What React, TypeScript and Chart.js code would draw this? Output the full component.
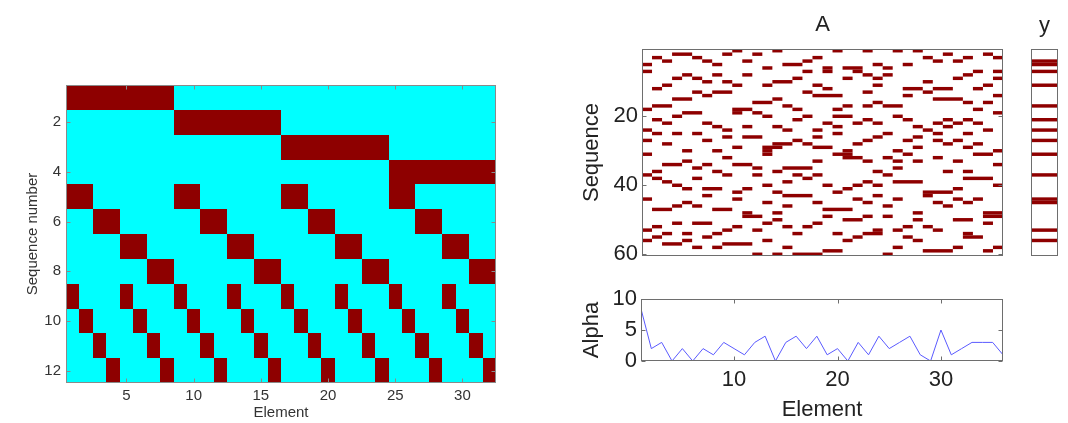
import React, { useEffect, useRef } from 'react';
import { Chart, registerables } from 'chart.js';

Chart.register(...registerables);

const FONT = '"Liberation Sans", Arial, Helvetica, sans-serif';
const RED = '#8e0000';
const CYAN = '#00ffff';

// ---------- Left panel: 12 x 32 sequence matrix ----------
const leftRows: string[] = [
  '11111111000000000000000000000000',
  '00000000111111110000000000000000',
  '00000000000000001111111100000000',
  '00000000000000000000000011111111',
  '11000000110000001100000011000000',
  '00110000001100000011000000110000',
  '00001100000011000000110000001100',
  '00000011000000110000001100000011',
  '10001000100010001000100010001000',
  '01000100010001000100010001000100',
  '00100010001000100010001000100010',
  '00010001000100010001000100010001',
];
const leftXTicks = [5, 10, 15, 20, 25, 30];
const leftYTicks = [2, 4, 6, 8, 10, 12];

// ---------- Right panel: A (60 x 36), filled columns per row ----------
const aRows: number[][] = [
  [10, 14, 20, 23, 26, 28],
  [4, 5, 9, 12, 31, 35],
  [2, 6, 18, 29, 33, 36],
  [3, 7, 11, 17, 30, 32],
  [1, 8, 15, 16, 24, 27],
  [13, 19, 21, 22, 25],
  [1, 17, 19, 22, 34, 36],
  [5, 8, 11, 23, 25, 33],
  [4, 6, 16, 21, 24, 32, 36],
  [7, 9, 14, 15, 29],
  [3, 10, 13, 18, 24, 35],
  [2, 19, 27, 28, 30, 31, 34],
  [6, 8, 9, 17, 23, 29],
  [7, 18, 19, 20, 27, 36],
  [4, 5, 14, 30, 31, 32],
  [12, 13, 24, 33, 35],
  [2, 3, 15, 21, 23, 25, 26],
  [1, 10, 11, 16, 20, 34],
  [5, 6, 10, 12, 36],
  [4, 13, 17, 20, 21, 26],
  [2, 16, 23, 27, 31, 33],
  [3, 7, 19, 22, 24, 30, 32, 34],
  [8, 11, 14, 20, 28, 31],
  [1, 9, 15, 18, 29, 35],
  [2, 4, 6, 20, 25, 30, 33],
  [9, 11, 12, 18, 24, 28],
  [1, 7, 16, 23, 27, 30, 32],
  [3, 14, 15, 17, 22, 31, 34],
  [10, 13, 14, 18, 19, 28, 33],
  [5, 8, 13, 21, 26, 36],
  [1, 13, 20, 21, 27, 34, 35],
  [9, 21, 22, 25, 30],
  [5, 18, 23, 26, 28, 32],
  [3, 4, 7, 10, 11, 36],
  [6, 12, 15, 16, 17, 26],
  [2, 8, 14, 24, 31, 33],
  [1, 9, 12, 16, 18, 25],
  [2, 6, 17, 33, 34, 35],
  [3, 15, 23, 26, 27, 28],
  [4, 13, 19, 22, 24, 36],
  [5, 7, 8, 11, 21, 32],
  [10, 14, 20, 29, 30, 31],
  [7, 15, 16, 17, 24, 29],
  [1, 10, 22, 26, 32, 34],
  [5, 13, 18, 23, 30, 33],
  [4, 6, 15, 25, 31],
  [2, 3, 8, 9, 19, 20, 21],
  [11, 14, 28, 35, 36],
  [11, 12, 19, 23, 25, 35, 36],
  [14, 21, 22, 28, 32, 33],
  [4, 6, 7, 13, 18, 35],
  [2, 10, 15, 17, 27, 29],
  [1, 9, 12, 24, 26, 30],
  [3, 5, 8, 16, 20, 23, 24, 33],
  [2, 7, 22, 27, 33, 34],
  [1, 5, 13, 21, 28],
  [3, 4, 9, 10, 11],
  [6, 8, 15, 26, 32, 36],
  [19, 20, 29, 30, 31, 35],
  [12, 14, 16, 17, 18, 25],
];
const aYTicks = [20, 40, 60];

// ---------- y column: filled rows ----------
const yRows = [4, 5, 7, 11, 17, 21, 24, 27, 31, 37, 44, 45, 53, 56];

// ---------- Alpha ----------
const alphaValues = [8.4, 2, 3, 0, 2, 0, 2, 1, 3, 2, 1, 3, 4, 0, 3, 4, 2, 4, 1, 2, 0, 3, 1, 4, 2, 3, 4, 1, 0, 5, 1, 2, 3, 3, 3, 1];
const alphaXTicks = [10, 20, 30];
const alphaYTicks = [0, 5, 10];

type Run = [number, number, number]; // colStart, colEnd, row

function runsFromStrings(rows: string[]): Run[] {
  const out: Run[] = [];
  rows.forEach((s, ri) => {
    let start = -1;
    for (let i = 0; i <= s.length; i++) {
      const on = i < s.length && s[i] === '1';
      if (on && start < 0) start = i;
      if (!on && start >= 0) {
        out.push([start + 1, i, ri + 1]);
        start = -1;
      }
    }
  });
  return out;
}

function runsFromLists(rows: number[][]): Run[] {
  const out: Run[] = [];
  rows.forEach((cols, ri) => {
    const sorted = [...cols].sort((a, b) => a - b);
    let s = -1;
    let prev = -10;
    for (const c of sorted) {
      if (c === prev + 1) {
        prev = c;
        continue;
      }
      if (s > 0) out.push([s, prev, ri + 1]);
      s = c;
      prev = c;
    }
    if (s > 0) out.push([s, prev, ri + 1]);
  });
  return out;
}

const matrixPlugin = {
  id: 'matrix',
  beforeDatasetsDraw(chart: any, _args: any, opts: any) {
    if (!opts || !opts.runs) return;
    const { ctx, chartArea } = chart;
    const xs = chart.scales.x;
    const ys = chart.scales.y;
    ctx.save();
    ctx.beginPath();
    ctx.rect(chartArea.left, chartArea.top, chartArea.right - chartArea.left, chartArea.bottom - chartArea.top);
    ctx.clip();
    if (opts.bg) {
      ctx.fillStyle = opts.bg;
      ctx.fillRect(chartArea.left, chartArea.top, chartArea.right - chartArea.left, chartArea.bottom - chartArea.top);
    }
    ctx.fillStyle = opts.color;
    const snap = (v: number) => (opts.snap ? Math.round(v) : v);
    for (const [c0, c1, r] of opts.runs as Run[]) {
      const xa = snap(xs.getPixelForValue(c0 - 0.5));
      const xb = snap(xs.getPixelForValue(c1 + 0.5));
      const ya = snap(ys.getPixelForValue(r - 0.5));
      const yb = snap(ys.getPixelForValue(r + 0.5));
      ctx.fillRect(Math.min(xa, xb), Math.min(ya, yb), Math.abs(xb - xa), Math.abs(yb - ya));
    }
    ctx.restore();
  },
};

const framePlugin = {
  id: 'frame',
  afterDraw(chart: any, _args: any, opts: any) {
    if (!opts || !opts.show) return;
    const { ctx, chartArea } = chart;
    const l = Math.round(chartArea.left) + 0.5;
    const r = Math.round(chartArea.right) - 0.5;
    const t = Math.round(chartArea.top) + 0.5;
    const b = Math.round(chartArea.bottom) - 0.5;
    ctx.save();
    ctx.strokeStyle = opts.color;
    ctx.lineWidth = 1;
    ctx.strokeRect(l, t, r - l, b - t);
    const tl = opts.tickLen || 4;
    ctx.beginPath();
    if (opts.xTicks) {
      const xs = chart.scales.x;
      for (const tk of xs.ticks) {
        const px = Math.round(xs.getPixelForValue(tk.value)) + 0.5;
        ctx.moveTo(px, b);
        ctx.lineTo(px, b - tl);
        ctx.moveTo(px, t);
        ctx.lineTo(px, t + tl);
      }
    }
    if (opts.yTicks) {
      const ys = chart.scales.y;
      for (const tk of ys.ticks) {
        const py = Math.round(ys.getPixelForValue(tk.value)) + 0.5;
        ctx.moveTo(l, py);
        ctx.lineTo(l + tl, py);
        ctx.moveTo(r, py);
        ctx.lineTo(r - tl, py);
      }
    }
    ctx.stroke();
    ctx.restore();
  },
};

Chart.register(matrixPlugin as any, framePlugin as any);

const setTicks = (vals: number[]) => (s: any) => {
  s.ticks = vals.map((v) => ({ value: v }));
};

const noGrid = { display: false, drawTicks: false, tickLength: 0 };

function leftConfig(): any {
  const W = 540;
  const f = { family: FONT, size: 15 };
  return {
    type: 'scatter',
    data: { datasets: [] },
    options: {
      animation: false,
      responsive: false,
      maintainAspectRatio: false,
      layout: { padding: { top: 85, right: W - 496, left: 0, bottom: 0 } },
      plugins: {
        legend: { display: false },
        tooltip: { enabled: false },
        matrix: { runs: runsFromStrings(leftRows), color: RED, bg: CYAN, snap: true },
        frame: { show: true, color: '#8a8a8a', tickLen: 4, xTicks: true, yTicks: true },
      },
      scales: {
        x: {
          type: 'linear',
          min: 0.5,
          max: 32.5,
          position: 'bottom',
          grid: noGrid,
          border: { display: false },
          afterBuildTicks: setTicks(leftXTicks),
          afterFit: (s: any) => {
            s.height = 40;
          },
          ticks: { font: f, color: '#333', padding: 4, maxRotation: 0, autoSkip: false },
          title: { display: true, text: 'Element', font: f, color: '#333', padding: { top: 0, bottom: 1 } },
        },
        y: {
          type: 'linear',
          min: 0.5,
          max: 12.5,
          reverse: true,
          grid: noGrid,
          border: { display: false },
          afterBuildTicks: setTicks(leftYTicks),
          afterFit: (s: any) => {
            s.width = 66;
          },
          ticks: { font: f, color: '#333', padding: 5, autoSkip: false },
          title: { display: true, text: 'Sequence number', font: f, color: '#333', padding: { top: 24, bottom: 0 } },
        },
      },
    },
  };
}

function aConfig(): any {
  const W = 460;
  const H = 276;
  const f = { family: FONT, size: 22 };
  return {
    type: 'scatter',
    data: { datasets: [] },
    options: {
      animation: false,
      responsive: false,
      maintainAspectRatio: false,
      layout: { padding: { top: 0, right: W - (1003 - 560), left: 0, bottom: H - 256 } },
      plugins: {
        legend: { display: false },
        tooltip: { enabled: false },
        matrix: { runs: runsFromLists(aRows), color: RED },
        frame: { show: true, color: '#6e6e6e', tickLen: 4, xTicks: false, yTicks: true },
      },
      scales: {
        x: {
          type: 'linear',
          min: 0.5,
          max: 36.5,
          position: 'top',
          grid: noGrid,
          border: { display: false },
          afterBuildTicks: setTicks([]),
          afterFit: (s: any) => {
            s.height = 49;
          },
          ticks: { display: false },
          title: { display: true, text: 'A', font: f, color: '#222', padding: { top: 12, bottom: 0 } },
        },
        y: {
          type: 'linear',
          min: 0.5,
          max: 60.5,
          reverse: true,
          grid: noGrid,
          border: { display: false },
          afterBuildTicks: setTicks(aYTicks),
          afterFit: (s: any) => {
            s.width = 642 - 560;
          },
          ticks: { font: f, color: '#222', padding: 4, autoSkip: false },
          title: { display: true, text: 'Sequence', font: f, color: '#222', padding: { top: 18.8, bottom: 0 } },
        },
      },
    },
  };
}

function yConfig(): any {
  const W = 48;
  const H = 276;
  return {
    type: 'scatter',
    data: { datasets: [] },
    options: {
      animation: false,
      responsive: false,
      maintainAspectRatio: false,
      layout: { padding: { top: 0, right: W - (1058 - 1020), left: 1031 - 1020, bottom: H - 256 } },
      plugins: {
        legend: { display: false },
        tooltip: { enabled: false },
        matrix: { runs: yRows.map((r) => [1, 1, r] as Run), color: RED },
        frame: { show: true, color: '#6e6e6e', tickLen: 4, xTicks: false, yTicks: false },
      },
      scales: {
        x: {
          type: 'linear',
          min: 0.5,
          max: 1.5,
          position: 'top',
          grid: noGrid,
          border: { display: false },
          afterBuildTicks: setTicks([]),
          afterFit: (s: any) => {
            s.height = 49;
          },
          ticks: { display: false },
          title: { display: true, text: 'y', font: { family: FONT, size: 22 }, color: '#222', padding: { top: 13, bottom: 0 } },
        },
        y: {
          type: 'linear',
          display: false,
          min: 0.5,
          max: 60.5,
          reverse: true,
        },
      },
    },
  };
}

function alphaConfig(): any {
  const W = 460;
  const H = 153;
  const f = { family: FONT, size: 22 };
  return {
    type: 'line',
    data: {
      datasets: [
        {
          data: alphaValues.map((v, i) => ({ x: i + 1, y: v })),
          borderColor: '#5a5aff',
          borderWidth: 1,
          pointRadius: 0,
          tension: 0,
          fill: false,
        },
      ],
    },
    options: {
      animation: false,
      responsive: false,
      maintainAspectRatio: false,
      layout: { padding: { top: 299 - 270, right: W - (1003 - 560), left: 0, bottom: 0 } },
      plugins: {
        legend: { display: false },
        tooltip: { enabled: false },
        frame: { show: true, color: '#6e6e6e', tickLen: 4, xTicks: true, yTicks: true },
      },
      scales: {
        x: {
          type: 'linear',
          min: 1,
          max: 36,
          grid: noGrid,
          border: { display: false },
          afterBuildTicks: setTicks(alphaXTicks),
          afterFit: (s: any) => {
            s.height = H - (361 - 270);
          },
          ticks: { font: f, color: '#222', padding: 6, maxRotation: 0, autoSkip: false },
          title: { display: true, text: 'Element', font: f, color: '#222', padding: { top: 0, bottom: 0 } },
        },
        y: {
          type: 'linear',
          min: 0,
          max: 10,
          grid: noGrid,
          border: { display: false },
          afterBuildTicks: setTicks(alphaYTicks),
          afterFit: (s: any) => {
            s.width = 641 - 560;
          },
          ticks: { font: f, color: '#222', padding: 4, autoSkip: false },
          title: { display: true, text: 'Alpha', font: f, color: '#222', padding: { top: 18.8, bottom: 0 } },
        },
      },
    },
  };
}

export default function App() {
  const leftRef = useRef<HTMLCanvasElement>(null);
  const aRef = useRef<HTMLCanvasElement>(null);
  const yRef = useRef<HTMLCanvasElement>(null);
  const alphaRef = useRef<HTMLCanvasElement>(null);

  useEffect(() => {
    const charts: Chart[] = [];
    if (leftRef.current) charts.push(new Chart(leftRef.current, leftConfig()));
    if (aRef.current) charts.push(new Chart(aRef.current, aConfig()));
    if (yRef.current) charts.push(new Chart(yRef.current, yConfig()));
    if (alphaRef.current) charts.push(new Chart(alphaRef.current, alphaConfig()));
    return () => charts.forEach((c) => c.destroy());
  }, []);

  const abs = (left: number, top: number, width: number, height: number): React.CSSProperties => ({
    position: 'absolute',
    left,
    top,
    width,
    height,
  });

  return (
    <div style={{ position: 'absolute', left: 0, top: 0, width: 1068, height: 423, background: '#fff', overflow: 'hidden' }}>
      <canvas ref={leftRef} width={540} height={423} style={abs(0, 0, 540, 423)} />
      <canvas ref={aRef} width={460} height={276} style={abs(560, 0, 460, 276)} />
      <canvas ref={yRef} width={48} height={276} style={abs(1020, 0, 48, 276)} />
      <canvas ref={alphaRef} width={460} height={153} style={abs(560, 270, 460, 153)} />
    </div>
  );
}
